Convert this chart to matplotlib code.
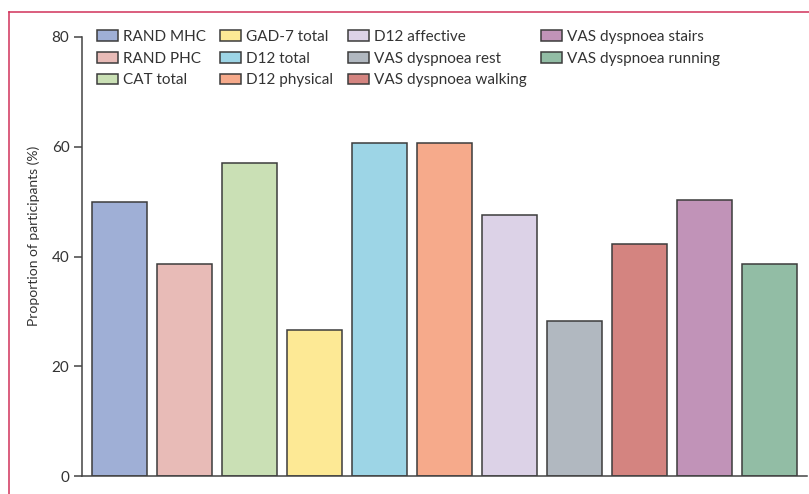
import matplotlib
matplotlib.use("Agg")
import matplotlib.pyplot as plt
from matplotlib.lines import Line2D

categories = ["RAND MHC", "RAND PHC", "CAT total", "GAD-7 total", "D12 total",
              "D12 physical", "D12 affective", "VAS dyspnoea rest",
              "VAS dyspnoea walking", "VAS dyspnoea stairs", "VAS dyspnoea running"]
values = [49.9, 38.7, 57.0, 26.6, 60.7, 60.7, 47.6, 28.3, 42.2, 50.3, 38.6]
colors = ["#9fafd6", "#e8bbb7", "#cae0b5", "#fde995", "#9dd5e6", "#f6aa8b",
          "#dcd2e7", "#b1b8c0", "#d48480", "#c193b8", "#92bda5"]
yticks = [0, 20, 40, 60, 80]
ylabel = "Proportion of participants (%)"

plt.rcParams['font.family'] = ['Lato', 'DejaVu Sans']

W, H = 809, 494
fig = plt.figure(figsize=(W / 100, H / 100), dpi=100)
ax = fig.add_axes([82 / W, 1 - 476 / H, (807 - 82) / W, (476 - 37) / H])

x = list(range(len(values)))
ax.bar(x, values, width=0.845, color=colors, edgecolor="#3c3c3c", linewidth=1.1)

ax.set_xlim(-0.577, 10.57)
ax.set_ylim(0, 80)
ax.set_yticks(yticks)
ax.set_yticklabels([str(t) for t in yticks], fontsize=11, color="#333333")
ax.set_xticks([])
ax.set_ylabel(ylabel, fontsize=10, color="#333333")
ax.yaxis.set_label_coords(-0.058, 0.547)

for s in ["top", "right"]:
    ax.spines[s].set_visible(False)
for s in ["left", "bottom"]:
    ax.spines[s].set_color("#444444")
    ax.spines[s].set_linewidth(1.1)
ax.tick_params(axis="y", length=6, width=1.1, color="#444444", pad=3)

handles = [plt.Rectangle((0, 0), 1, 1, facecolor=c, edgecolor="#3c3c3c", linewidth=1.1)
           for c in colors]
leg = ax.legend(handles, categories, ncol=4, loc="upper left",
                bbox_to_anchor=(0.0207, 1.016), frameon=False, fontsize=11,
                handlelength=1.37, handleheight=0.7, handletextpad=0.33,
                columnspacing=0.95, labelspacing=0.5, borderaxespad=0.0,
                borderpad=0.0)
for t in leg.get_texts():
    t.set_color("#333333")

frame_col = "#d1325a"
fig.add_artist(Line2D([8.5 / W, 8.5 / W], [0, 1 - 12 / H], color=frame_col,
                      linewidth=1.1, transform=fig.transFigure))
fig.add_artist(Line2D([8.5 / W, 1], [1 - 12 / H, 1 - 12 / H], color=frame_col,
                      linewidth=1.1, transform=fig.transFigure))

fig.savefig("out.png", dpi=100)
